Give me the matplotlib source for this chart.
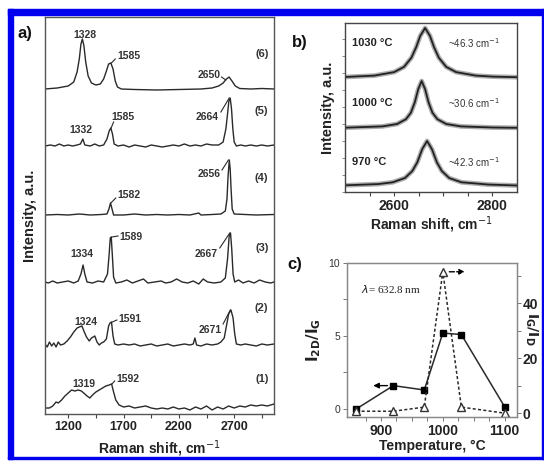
import matplotlib
matplotlib.use('Agg')
import matplotlib.pyplot as plt
from matplotlib.patches import Rectangle

plt.rcParams['font.family'] = ['Liberation Sans', 'DejaVu Sans']

W, H = 544, 461

# ---------------- panel a: Raman spectra (1) ... (6), heights in arbitrary units
a_x6 = [990, 1100, 1200, 1250, 1280, 1300, 1315, 1328, 1342, 1358, 1380, 1410, 1450, 1490, 1520, 1545,
        1565, 1585, 1605, 1625, 1645, 1680, 1800, 2000, 2200, 2400, 2500, 2560, 2600, 2630, 2654, 2680,
        2710, 2750, 2850, 2950, 3060]
a_y6 = [325, 326, 328, 332, 342, 355, 370, 375, 368, 352, 338, 331, 329, 330, 335, 343,
        350, 351, 345, 333, 327, 325, 324.5, 324, 324.5, 325, 326, 328, 331, 335, 337, 333,
        328, 325.5, 325, 325.5, 325]

a_x5 = [990, 1040, 1080, 1120, 1160, 1200, 1240, 1280, 1310, 1332, 1350, 1400, 1440, 1480, 1520, 1550,
        1570, 1585, 1600, 1615, 1650, 1700, 1750, 1800, 1850, 1900, 1950, 2000, 2050, 2100, 2150, 2200,
        2250, 2300, 2350, 2400, 2450, 2500, 2560, 2600, 2625, 2640, 2652, 2664, 2676, 2688, 2700, 2720,
        2760, 2800, 2850, 2900, 2950, 3000, 3060]
a_y5 = [268, 269, 268, 270, 268, 269, 268, 269, 270, 275, 269, 268, 270, 268, 269, 275,
        283, 286, 280, 270, 268, 269, 267, 269, 268, 267, 269, 268, 267, 268, 269, 268,
        270, 268, 269, 268, 270, 269, 269, 272, 285, 300, 313, 316, 305, 285, 272, 268,
        269, 268, 269, 268, 269, 268, 269]

a_x4 = [990, 1100, 1200, 1300, 1400, 1500, 1550, 1568, 1582, 1596, 1610, 1700, 1800, 1900, 2000, 2100,
        2200, 2300, 2380, 2400, 2500, 2580, 2620, 2635, 2645, 2656, 2664, 2672, 2682, 2700, 2800, 2900, 3060]
a_y4 = [199, 199.5, 199, 200, 199, 199.5, 200, 205, 211, 205, 199, 199, 200, 199, 199.5, 199,
        199.5, 199, 201, 199, 199.5, 200, 203, 215, 238, 254, 245, 225, 205, 200, 199.5, 199, 199.5]

a_x3 = [990, 1020, 1060, 1100, 1150, 1200, 1250, 1290, 1315, 1334, 1350, 1370, 1420, 1470, 1520, 1555,
        1570, 1580, 1589, 1598, 1610, 1630, 1680, 1730, 1780, 1830, 1880, 1920, 1980, 2040, 2080, 2130,
        2180, 2230, 2280, 2330, 2380, 2420, 2460, 2520, 2580, 2620, 2640, 2655, 2667, 2678, 2690, 2705,
        2740, 2780, 2830, 2880, 2930, 2980, 3030, 3060]
a_y3 = [132, 131, 133, 131, 132, 133, 131, 133, 140, 149, 140, 132, 131, 133, 132, 140,
        160, 176, 177, 160, 137, 131, 132, 134, 131, 133, 135, 131, 132, 133, 131, 132,
        135, 132, 131, 133, 130, 135, 132, 131, 132, 136, 155, 178, 181, 165, 140, 132,
        134, 131, 133, 131, 134, 132, 131, 132]

a_x2 = [990, 1010, 1030, 1050, 1070, 1090, 1110, 1130, 1160, 1190, 1220, 1250, 1280, 1300, 1324, 1345,
        1365, 1390, 1410, 1440, 1460, 1480, 1500, 1520, 1545, 1565, 1578, 1591, 1605, 1620, 1650, 1700,
        1750, 1800, 1850, 1900, 1950, 2000, 2050, 2100, 2150, 2200, 2250, 2300, 2330, 2345, 2360, 2400,
        2450, 2500, 2550, 2580, 2610, 2630, 2650, 2671, 2690, 2705, 2720, 2760, 2800, 2850, 2900, 2950,
        3000, 3060]
a_y2 = [70, 67, 72, 68, 71, 67, 72, 69, 70, 73, 77, 82, 86, 87, 88, 82,
        77, 73, 76, 78, 72, 69, 71, 72, 75, 88, 91, 92, 78, 70, 69, 70,
        69, 70, 68, 69, 70, 68, 69, 70, 68, 69, 70, 69, 70, 76, 69, 68,
        70, 69, 70, 72, 76, 88, 100, 104, 96, 80, 70, 69, 70, 69, 68, 70,
        69, 70]

a_x1 = [990, 1030, 1060, 1090, 1110, 1140, 1170, 1200, 1230, 1260, 1290, 1319, 1340, 1370, 1395, 1420,
        1450, 1480, 1510, 1540, 1570, 1592, 1610, 1630, 1660, 1700, 1750, 1800, 1850, 1900, 1950, 2000,
        2050, 2100, 2150, 2200, 2250, 2300, 2350, 2400, 2450, 2500, 2550, 2600, 2650, 2700, 2750, 2800,
        2850, 2900, 2950, 3000, 3060]
a_y1 = [6, 6, 8, 12, 11, 14, 18, 21, 24, 23, 24, 23, 21, 18, 16, 19,
        22, 24, 26, 28, 29, 30, 22, 14, 9, 7, 8, 6, 7, 8, 6, 5,
        6, 5, 7, 5, 6, 4, 7, 5, 8, 4, 7, 5, 8, 6, 8, 7,
        9, 8, 9, 8, 10]

a_spectra = [(a_x1, a_y1), (a_x2, a_y2), (a_x3, a_y3), (a_x4, a_y4), (a_x5, a_y5), (a_x6, a_y6)]
a_xticks = [1200, 1700, 2200, 2700]

# peak labels: text, label centre (x, y), pointer start and end (None: no pointer)
a_peak_labels = [
    ('1328', 1355, 379, None),
    ('1585', 1750, 358, (1625, 355, 1590, 351)),
    ('2650', 2470, 339, (2585, 337, 2625, 334)),
    ('1332', 1310, 284, None),
    ('1585', 1690, 297, (1610, 292, 1588, 286)),
    ('2664', 2460, 297, (2580, 302, 2655, 316)),
    ('1582', 1750, 219, (1630, 216, 1585, 211)),
    ('2656', 2470, 240, (2590, 244, 2648, 254)),
    ('1334', 1320, 160, None),
    ('1589', 1770, 177, (1650, 178, 1595, 177)),
    ('2667', 2450, 160, (2570, 166, 2660, 181)),
    ('1324', 1355, 92, None),
    ('1591', 1760, 95, (1640, 94, 1598, 92)),
    ('2671', 2480, 84, (2600, 90, 2665, 104)),
    ('1319', 1340, 30, None),
    ('1592', 1740, 35, (1620, 33, 1595, 30)),
]
a_sample_labels = [('(6)', 360), ('(5)', 303), ('(4)', 236), ('(3)', 166), ('(2)', 106), ('(1)', 35)]

# ---------------- panel b: 2D band at three growth temperatures
b_x_top = [2500, 2560, 2600, 2620, 2635, 2645, 2653, 2663, 2673, 2681, 2691, 2706, 2726, 2766, 2800, 2850]
b_y_top = [115, 116.4, 119.9, 125.1, 134.2, 145, 156, 164, 156, 145, 134.2, 125.1, 119.9, 116.4, 115.4, 114.8]
b_x_mid = [2500, 2576, 2606, 2624, 2634, 2642, 2649, 2656, 2663, 2670, 2678, 2688, 2706, 2736, 2800, 2850]
b_y_mid = [64.3, 65.6, 68, 72.8, 79.2, 89.6, 102.8, 111, 102.8, 89.6, 79.2, 72.8, 68, 65.6, 64.5, 64.2]
b_x_bot = [2500, 2567, 2597, 2622, 2637, 2647, 2657, 2667, 2677, 2687, 2697, 2712, 2737, 2767, 2790, 2850]
b_y_bot = [6.7, 7.9, 9.7, 14, 21, 29.6, 42.7, 51, 42.7, 29.6, 21, 14, 9.7, 8.5, 7.5, 6.5]
b_temps = ['1030 °C', '1000 °C', '970 °C']
b_widths = ['~46.3 cm$^{-1}$', '~30.6 cm$^{-1}$', '~42.3 cm$^{-1}$']
b_label_y = [149, 89, 30]

# ---------------- panel c: intensity ratios vs temperature
c_temp = [860, 920, 970, 1000, 1030, 1100]
c_i2d_ig = [0.0, 1.6, 1.3, 5.2, 5.1, 0.15]
c_ig_id = [0.7, 0.7, 2.2, 51.5, 2.2, 0.0]


def fig_rect(left, top, right, bottom):
    return [left / W, 1 - bottom / H, (right - left) / W, (bottom - top) / H]


fig = plt.figure(figsize=(W / 100, H / 100), dpi=100)

# blue frame
for (x0, y0, w, h) in [(8, 9, 536, 6), (8, 9, 5, 450), (8, 457, 536, 2), (542, 9, 1.5, 450)]:
    fig.patches.append(Rectangle((x0 / W, 1 - (y0 + h) / H), w / W, h / H,
                                 transform=fig.transFigure, color='#0000ee', zorder=0))

ink = '#2a2a2a'

# ---- a)
ax = fig.add_axes(fig_rect(45, 17, 274, 414))
for xs, ys in a_spectra:
    ax.plot(xs, ys, color=ink, lw=1.0)
ax.set_xlim(990, 3060)
ax.set_ylim(0, 397)
ax.set_yticks([])
ax.set_xticks(a_xticks)
ax.set_xticks([1450, 1950, 2450, 2950], minor=True)
ax.tick_params(axis='x', which='both', direction='out', length=3, width=0.8, colors='#444', labelsize=9, pad=2)
for lab in ax.get_xticklabels():
    lab.set_fontweight('bold')
    lab.set_color('#222')
for sp in ax.spines.values():
    sp.set_color('#555')
    sp.set_linewidth(1.0)
ax.set_xlabel('Raman shift, cm$^{-1}$', fontsize=10, fontweight='bold', labelpad=4, color='#222')
ax.set_ylabel('Intensity, a.u.', fontsize=10.5, fontweight='bold', labelpad=6, color='#222')
for txt, lx, ly, ptr in a_peak_labels:
    ax.text(lx, ly, txt, fontsize=7.5, fontweight='bold', color='#333', ha='center', va='center')
    if ptr is not None:
        ax.plot([ptr[0], ptr[2]], [ptr[1], ptr[3]], color=ink, lw=0.8)
for txt, ly in a_sample_labels:
    ax.text(3010, ly, txt, fontsize=8, fontweight='bold', color='#333', ha='right', va='center')

# ---- b)
bx = fig.add_axes(fig_rect(345, 23, 517, 192))
for xs, ys in [(b_x_top, b_y_top), (b_x_mid, b_y_mid), (b_x_bot, b_y_bot)]:
    bx.plot(xs, ys, color='#999', lw=3.4, alpha=0.8)
    bx.plot(xs, ys, color='#222', lw=1.3)
bx.set_xlim(2500, 2850)
bx.set_ylim(0, 169)
bx.set_xticks([2600, 2800])
bx.set_xticks([2550, 2650, 2700, 2750], minor=True)
bx.set_yticks(range(0, 169, 17))
bx.set_yticklabels([])
bx.tick_params(axis='y', direction='out', length=2, width=0.6, colors='#777')
bx.tick_params(axis='x', which='both', direction='out', length=3, width=0.8, colors='#444', labelsize=10, pad=2)
for lab in bx.get_xticklabels():
    lab.set_fontweight('bold')
    lab.set_color('#222')
for sp in bx.spines.values():
    sp.set_color('#444')
    sp.set_linewidth(1.0)
bx.set_xlabel('Raman shift, cm$^{-1}$', fontsize=10, fontweight='bold', labelpad=1, color='#222')
bx.set_ylabel('Intensity, a.u.', fontsize=10.5, fontweight='bold', labelpad=2, color='#222')
for t, wd, ly in zip(b_temps, b_widths, b_label_y):
    bx.text(2515, ly, t, fontsize=8, fontweight='bold', color='#222', va='center')
    bx.text(2762, ly, wd, fontsize=7, color='#333', ha='center', va='center')

# ---- c)
cx = fig.add_axes(fig_rect(347, 263, 517, 417))
cx.plot(c_temp, c_i2d_ig, color=ink, lw=1.1, marker='s', ms=5, mfc='black', mec='black')
cx.set_xlim(845, 1120)
cx.set_ylim(-0.55, 10)
cx.set_yticks([0, 5, 10])
cx.set_yticks([2.5, 7.5], minor=True)
cx.set_xticks([900, 1000, 1100])
cx.set_xticks([875, 925, 950, 975, 1025, 1050, 1075], minor=True)
cx.tick_params(axis='y', which='both', direction='out', length=3, width=0.7, colors='#777', labelsize=7.5, pad=2)
cx.tick_params(axis='x', which='both', direction='out', length=3, width=0.7, colors='#777', labelsize=10, pad=2)
for lab in cx.get_yticklabels():
    lab.set_color('#333')
for lab in cx.get_xticklabels():
    lab.set_fontweight('bold')
    lab.set_color('#222')
for sp in cx.spines.values():
    sp.set_color('#888')
    sp.set_linewidth(0.9)
cx.set_xlabel('Temperature, °C', fontsize=10, fontweight='bold', labelpad=1, color='#222')
cx.set_ylabel(r'$\mathbf{I_{2D}/I_G}$', fontsize=11, labelpad=4, color='#222')
cx.annotate('', xy=(883, 1.6), xytext=(915, 1.6),
            arrowprops=dict(arrowstyle='-|>', color='black', lw=1.0, mutation_scale=8))
cx.text(868, 8.2, r'$\lambda$= 632.8 nm', fontsize=8, family='Liberation Serif', color='#222', va='center')

cr = cx.twinx()
cr.plot(c_temp, c_ig_id, color=ink, lw=1.1, ls=(0, (2, 1.5)), marker='^', ms=6, mfc='white', mec='#333')
cr.set_ylim(-1.4, 54.7)
cr.set_yticks([0, 20, 40])
cr.set_yticks([10, 30, 50], minor=True)
cr.tick_params(axis='y', which='both', direction='out', length=3, width=0.7, colors='#777', labelsize=10, pad=1)
for lab in cr.get_yticklabels():
    lab.set_fontweight('bold')
    lab.set_color('#222')
for sp in cr.spines.values():
    sp.set_color('#888')
    sp.set_linewidth(0.9)
cr.set_ylabel(r'$\mathbf{I_G/I_D}$', fontsize=10, rotation=270, color='#222', va='center')
cr.yaxis.set_label_coords(1.085, 0.57)
cr.annotate('', xy=(1040, 51.5), xytext=(1006, 51.5),
            arrowprops=dict(arrowstyle='-|>', color='black', lw=1.0, ls='--', mutation_scale=8))

# panel letters
for txt, px, py in [('a)', 25, 33), ('b)', 300, 42), ('c)', 295, 265)]:
    fig.text(px / W, 1 - py / H, txt, fontsize=12, fontweight='bold', ha='center', va='center', color='#111')

fig.savefig('out.png', dpi=100)
